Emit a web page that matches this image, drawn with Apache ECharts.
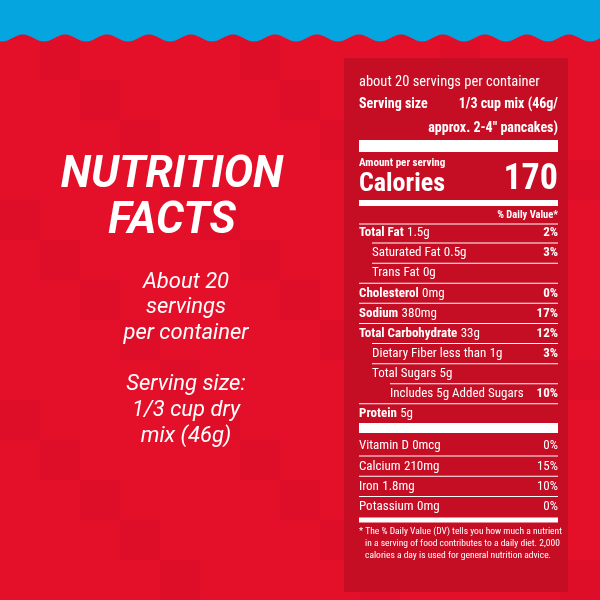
<!DOCTYPE html>
<html><head><meta charset="utf-8">
<script src="https://cdn.jsdelivr.net/npm/echarts@6/dist/echarts.min.js"></script>
<style>html,body{margin:0;padding:0}#c{width:600px;height:600px}</style>
</head><body><div id="c"></div>
<script>
// nutrient rows: label, amount, %DV, indent level
var rowNames = ['Total Fat', 'Saturated Fat', 'Trans Fat', 'Cholesterol', 'Sodium', 'Total Carbohydrate', 'Dietary Fiber less than', 'Total Sugars', 'Includes 5g Added Sugars', 'Protein'];
var rowAmounts = ['1.5g', '0.5g', '0g', '0mg', '380mg', '33g', '1g', '5g', '', '5g'];
var rowDV = ['2%', '3%', '', '0%', '17%', '12%', '3%', '', '10%', ''];
var rowIndent = [0, 1, 1, 0, 0, 0, 1, 1, 2, 0];
var vitNames = ['Vitamin D', 'Calcium', 'Iron', 'Potassium'];
var vitAmounts = ['0mcg', '210mg', '1.8mg', '0mg'];
var vitDV = ['0%', '15%', '10%', '0%'];
var calories = '170';
var footnote = ['* The % Daily Value (DV) tells you how much a nutrient', 'in a serving of food contributes to a daily diet. 2,000', 'calories a day is used for general nutrition advice.'];

var chart = echarts.init(document.getElementById('c'));
var W = '#ffffff', F = 'Roboto, "Liberation Sans", sans-serif', FC = '"Roboto Condensed", "Liberation Sans Narrow", Roboto, sans-serif';
var els = [];
els.push({type: 'rect', shape: {x: 0, y: 0, width: 600, height: 600}, style: {fill: '#e40f29'}});
// subtle tiles
for (var i = 0; i < 15; i++) for (var j = 0; j < 15; j++) {
  if ((i * 7 + j * 3) % 5 === 0) els.push({type: 'rect', shape: {x: i * 40, y: j * 40, width: 40, height: 40}, style: {fill: 'rgba(120,0,20,0.035)'}});
}
// wavy blue top
var pts = [[0, 0], [600, 0]];
for (var x = 600; x >= 0; x -= 2) pts.push([x, 38 + 3.5 * Math.cos((x - 2) / 42 * 2 * Math.PI)]);
els.push({type: 'polygon', shape: {points: pts}, style: {fill: '#05a5e0'}});

function txt(x, y, s, o) {
  o = o || {};
  els.push({type: 'text', x: x, y: y, style: {text: s, fill: W, font: (o.style || 'normal') + ' ' + (o.w || 'normal') + ' ' + (o.size || 13) + 'px ' + (o.f || FC), align: o.align || 'left', verticalAlign: 'middle'}});
}
function rich(x, y, a, b, bold) {
  els.push({type: 'text', x: x, y: y, style: {text: '{a|' + a + '}' + (b ? ' {b|' + b + '}' : ''), verticalAlign: 'middle',
    rich: {a: {fill: W, fontFamily: FC, fontSize: 13, fontWeight: bold ? 'bold' : 'normal'}, b: {fill: W, fontFamily: FC, fontSize: 13}}}});
}
function line(y, h) { els.push({type: 'rect', shape: {x: 359, y: y - h / 2, width: 199, height: h}, style: {fill: W}}); }

// left side
txt(172, 176, 'NUTRITION', {style: 'italic', w: 'bold', size: 44, f: F, align: 'center'});
txt(172, 222, 'FACTS', {style: 'italic', w: 'bold', size: 44, f: F, align: 'center'});
['About 20', 'servings', 'per container', '', 'Serving size:', '1/3 cup dry', 'mix (46g)'].forEach(function (s, k) {
  if (s) txt(186, 282 + k * 25.7, s, {style: 'italic', size: 22, f: F, align: 'center'});
});

// panel
els.push({type: 'rect', shape: {x: 344, y: 58, width: 224, height: 534}, style: {fill: '#c50d24'}});
txt(359, 82, 'about 20 servings per container', {size: 14.5});
txt(359, 104, 'Serving size', {w: 'bold', size: 14});
txt(558, 104, '1/3 cup mix (46g/', {w: 'bold', size: 14, align: 'right'});
txt(558, 128, 'approx. 2-4" pancakes)', {w: 'bold', size: 14, align: 'right'});
line(146, 12);
txt(359, 163, 'Amount per serving', {w: 'bold', size: 11});
txt(359, 184, 'Calories', {w: 'bold', size: 26});
txt(558, 180, calories, {w: 'bold', size: 36, align: 'right'});
line(203, 6);
txt(558, 215, '% Daily Value*', {w: 'bold', size: 10.5, align: 'right'});
line(224, 1);
var y0 = 233, dy = 20.1, ind = [0, 13, 31];
rowNames.forEach(function (n, k) {
  var y = y0 + k * dy;
  rich(359 + ind[rowIndent[k]], y, n, rowAmounts[k], rowIndent[k] === 0);
  if (rowDV[k]) txt(558, y, rowDV[k], {w: 'bold', align: 'right'});
  if (k < rowNames.length - 1) {
    var lx = 359 + ind[rowIndent[k + 1]];
    els.push({type: 'rect', shape: {x: lx, y: y + dy / 2 - 0.5, width: 558 - lx, height: 1}, style: {fill: W}});
  }
});
line(428, 10);
vitNames.forEach(function (n, k) {
  var y = 446 + k * 20.3;
  rich(359, y, n, vitAmounts[k], false);
  txt(558, y, vitDV[k], {align: 'right'});
  if (k < vitNames.length - 1) line(y + 10, 1);
});
line(520, 5);
footnote.forEach(function (s, k) {
  txt(k ? 365 : 359, 532 + k * 12, s, {size: 9.5});
});

chart.setOption({animation: false, graphic: {elements: els}});
</script></body></html>
